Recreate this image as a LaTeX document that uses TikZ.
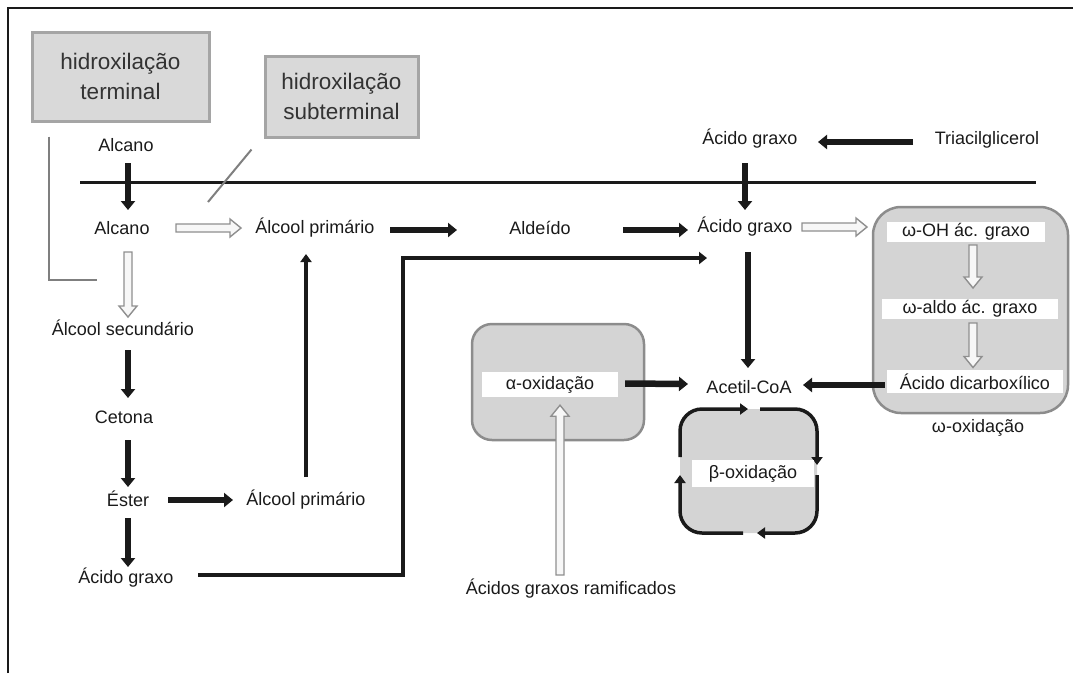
\documentclass[tikz,border=0pt]{standalone}
\usepackage{fontspec}
\setmainfont{Liberation Sans}
\usetikzlibrary{arrows.meta,calc}
\definecolor{ink}{HTML}{1A1A1A}
\definecolor{boxgray}{HTML}{D9D9D9}
\definecolor{hgray}{HTML}{A5A5A5}
\definecolor{fillgray}{HTML}{D4D4D4}
\definecolor{rgray}{HTML}{8C8C8C}
\definecolor{hollowgray}{HTML}{8F8F8F}
\definecolor{hollowfill}{HTML}{F7F7F7}
\definecolor{lgray}{HTML}{7F7F7F}
\definecolor{textgray}{HTML}{333333}
\newcommand\hollowarrow[2]{%
  \coordinate (hs) at #1;
  \coordinate (he) at #2;
  \coordinate (hb) at ($(he)!11pt!(hs)$);
  \draw[hollow] ($(hs)!4pt!90:(he)$) -- ($(hb)!4pt!90:(he)$) -- ($(hb)!9pt!90:(he)$)
    -- (he) -- ($(hb)!9pt!-90:(he)$) -- ($(hb)!4pt!-90:(he)$) -- ($(hs)!4pt!-90:(he)$) -- cycle;}
\begin{document}
\begin{tikzpicture}[x=1pt,y=-1pt,
  txt/.style={font=\fontsize{18}{21}\selectfont, text=ink, inner sep=1pt},
  hbox/.style={draw=hgray, line width=3pt, fill=boxgray, font=\fontsize{22.5}{30}\selectfont,
    align=center, inner sep=0pt, text=textgray},
  rbox/.style={draw=rgray, line width=2.5pt, fill=fillgray, inner sep=0pt, outer sep=0pt},
  wlab/.style={fill=white, font=\fontsize{18}{21}\selectfont, text=ink, inner sep=0pt},
  blk/.style={draw=ink, line width=6.5pt, -{Triangle[length=9pt,width=14pt]}},
  med/.style={draw=ink, line width=4pt, -{Triangle[length=8pt,width=11pt]}},
  cyc/.style={draw=ink, line width=3.5pt, rounded corners=22pt, -{Triangle[length=8pt,width=11pt]}},
  hollow/.style={draw=hollowgray, line width=1.4pt, fill=hollowfill, line join=miter},
  gline/.style={draw=lgray, line width=2pt}]
\useasboundingbox (0,0) rectangle (1073,673);
% frame
\draw[line width=2pt, ink] (8,673) -- (8,8) -- (1073,8);
% membrane
\draw[line width=3pt, ink] (80,182) -- (1036,182);

% labels boxes
\node[hbox, minimum width=177pt, minimum height=89pt] (term) at (120.5,76.5) {hidroxilação\\terminal};
\node[hbox, minimum width=153pt, minimum height=81pt] (sub) at (341.5,96.5) {hidroxilação\\subterminal};

% rounded boxes
\node[rbox, minimum width=195pt, minimum height=206pt, rounded corners=28pt] (wbox) at (970.5,310) {};
\node[rbox, minimum width=172pt, minimum height=116pt, rounded corners=20pt] (abox) at (558,382) {};
\node[fill=fillgray, inner sep=0pt, outer sep=0pt, minimum width=137pt, minimum height=124pt, rounded corners=22pt] (bbox) at (748.5,471) {};

% text nodes
\node[txt] (alk1) at (126,145) {Alcano};
\node[txt] (alk2) at (122,228) {Alcano};
\node[txt] (ap1) at (315,228) {Álcool primário};
\node[txt] (ald) at (540,228) {Aldeído};
\node[txt] (ag2) at (745,227) {Ácido graxo};
\node[txt] (ag1) at (750,139) {Ácido graxo};
\node[txt] (tri) at (987,140) {Triacilglicerol};
\node[txt] (asec) at (123,328) {Álcool secundário};
\node[txt] (cet) at (124,417) {Cetona};
\node[txt] (est) at (128,499) {Éster};
\node[txt] (ap2) at (306,500) {Álcool primário};
\node[txt] (ag3) at (126,578) {Ácido graxo};
\node[txt] (acoa) at (749,387) {Acetil-CoA};
\node[txt] (agr) at (571,589) {Ácidos graxos ramificados};
\node[txt] (womega) at (978,428) {ω-oxidação};

\node[wlab, minimum width=158pt, minimum height=20pt] (woh) at (966,232) {ω-OH ác. graxo};
\node[wlab, minimum width=176pt, minimum height=20pt] (wald) at (970,309) {ω-aldo ác. graxo};
\node[wlab, minimum width=176pt, minimum height=23pt] (dicarb) at (975,381.5) {Ácido dicarboxílico};
\node[wlab, minimum width=136pt, minimum height=25pt] (alab) at (550,384.5) {α-oxidação};

% beta loop
\draw[cyc] ($(bbox.west)+(0,-14)$) -- (bbox.north west) -- ($(bbox.north)+(-0.5,0)$);
\draw[cyc] ($(bbox.north)+(11.5,0)$) -- (bbox.north east) -- ($(bbox.east)+(0,-6)$);
\draw[cyc] ($(bbox.east)+(0,4)$) -- (bbox.south east) -- ($(bbox.south)+(8.5,0)$);
\draw[cyc] ($(bbox.south)+(-5.5,0)$) -- (bbox.south west) -- ($(bbox.west)+(0,4)$);
\node[wlab, minimum width=122pt, minimum height=27pt] (blab) at (753,473.5) {β-oxidação};

% pointer lines
\draw[gline] ($(term.south)+(-71.5,14)$) |- ($(alk2.center)+(-25,52)$);
\draw[gline] ($(sub.south west)+(-12,11)$) -- ($(alk2.center)+(86,-26)$);

% left column
\draw[blk] ($(alk1.center)+(2,18)$) -- ($(alk1.center |- alk2.center)+(2,-18)$);
\hollowarrow{($(alk2.center)+(6,24)$)}{($(alk2.center |- asec.center)+(6,-11)$)}
\draw[blk] ($(asec.center)+(5,22)$) -- ($(asec.center |- cet.center)+(5,-19)$);
\draw[blk] ($(cet.center)+(4,23)$) -- ($(cet.center |- est.center)+(4,-12)$);
\draw[blk] ($(est.center)+(0,19)$) -- ($(est.center |- ag3.center)+(0,-11)$);
\draw[blk] ($(est.center)+(40,1)$) -- ($(ap2.center)+(-73,0)$);
\draw[med] ($(ap2.center)+(0,-23)$) -- ($(ap2.center |- ap1.center)+(0,26)$);
\draw[med, -{Triangle[length=8pt,width=12pt]}] ($(ag3.center)+(72,-3)$) -| ($(ag2.center)+(-342,31)$) -- ($(ag2.center)+(-38,31)$);

% top row
\hollowarrow{($(alk2.center)+(54,0)$)}{($(ap1.center)+(-74,0)$)}
\draw[blk] ($(ap1.center)+(75,2)$) -- ($(ald.center)+(-83,2)$);
\draw[blk] ($(ald.center)+(83,2)$) -- ($(ag2.center)+(-57,3)$);
\draw[blk] ($(tri.center)+(-74,2)$) -- ($(ag1.center)+(68,3)$);
\draw[blk] ($(ag2.center |- ag1.center)+(0,24)$) -- ($(ag2.center)+(0,-17)$);
\hollowarrow{($(ag2.center)+(57,0)$)}{($(wbox.west |- ag2.center)+(-6,0)$)}
\draw[blk] ($(ag2.center)+(3,25)$) -- ($(acoa.center)+(-1,-19)$);

% omega
\hollowarrow{($(woh.center)+(7,13)$)}{($(woh.center |- wald.center)+(7,-21)$)}
\hollowarrow{($(wald.center)+(3,14)$)}{($(wald.center |- dicarb.center)+(3,-14)$)}
\draw[blk] ($(dicarb.west)+(-2,3.5)$) -- ($(acoa.center)+(54,-2)$);

% alpha
\draw[blk] ($(alab.east)+(7,-1)$) -- ($(acoa.center)+(-61,-3)$);
\hollowarrow{($(agr.center)+(-11,-14)$)}{($(alab.south)+(10,8)$)}
\end{tikzpicture}
\end{document}
